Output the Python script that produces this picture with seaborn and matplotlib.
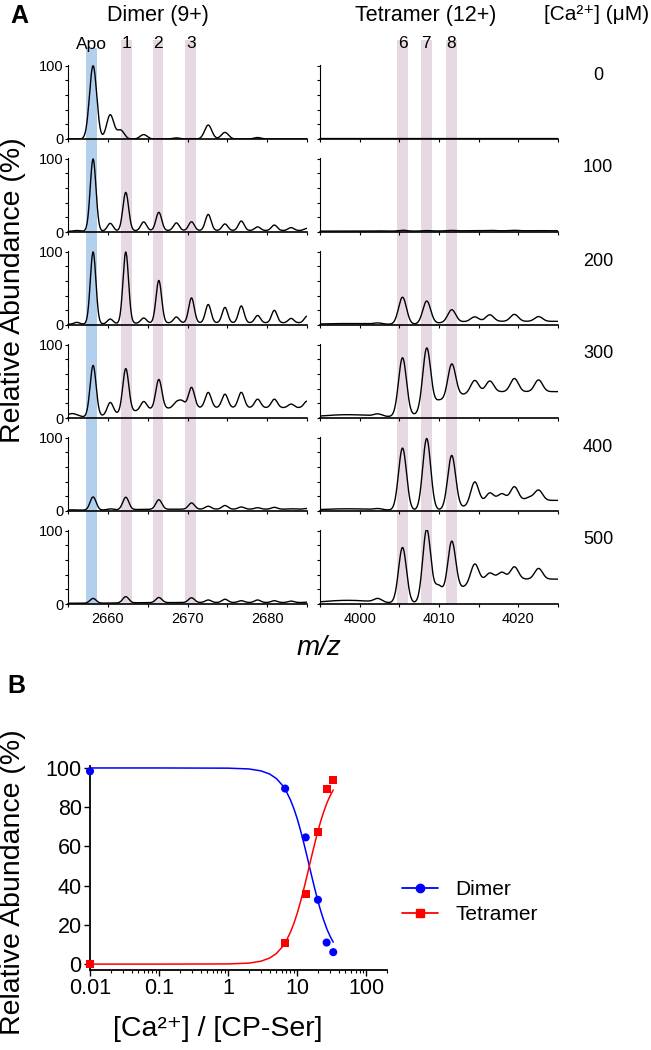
import numpy as np
import seaborn as sns
import matplotlib.pyplot as plt
from matplotlib.ticker import MultipleLocator, FixedLocator, LogLocator, NullFormatter
from matplotlib.lines import Line2D

# ---------------- panel A data ----------------
conc_labels = ['0', '100', '200', '300', '400', '500']

# Dimer (9+): peak positions (m/z) and peak heights (%) above background, one row per [Ca2+]
dimer_mz = [2656.1, 2658.15, 2660.3, 2661.6, 2662.25, 2664.5, 2666.4, 2668.6, 2669.3,
            2670.5, 2672.6, 2674.7, 2676.75, 2678.8, 2680.9, 2683.0, 2685.0]
dimer_int = [
    [0, 100, 33, 12, 0, 6, 0, 1.5, 0, 0.5, 19, 9, 0, 2, 0, 0, 0],
    [1, 98.5, 10.5, 0, 52.5, 12, 25, 10.5, 0, 12, 22, 9, 13, 5, 7.5, 4, 3],
    [2.5, 98.5, 6.5, 0, 97.5, 7, 58, 8, 0, 34, 25, 21, 23, 10, 17, 6, 9],
    [0, 70, 17, 0, 60, 11.6, 40, 7.5, 9, 28, 21, 18.5, 21, 11.7, 11.7, 5, 9],
    [0, 18, 1.5, 0, 17, 0, 13, 0, 0, 8.5, 4, 5, 3, 2, 2.5, 0.5, 1],
    [0, 6.5, 0, 0, 8.5, 0, 7, 0, 0, 6.5, 3.5, 4.5, 2.5, 3.5, 2.5, 2, 0.5],
]
dimer_sigma = [0.45, 0.36, 0.35, 0.38, 0.38, 0.38]
dimer_floor = [0, 1, 1, 0, 1, 1]
dimer_step = [0, 1, 2, 14, 1.5, 1]
dimer_step_mid = [2662, 2662, 2662, 2662, 2662, 2662]
dimer_shelf = [0, 0, 0, 5.5, 0.5, 0]

# Tetramer (12+)
tet_mz = [4002.3, 4005.4, 4008.45, 4009.9, 4011.6, 4014.5, 4016.4, 4017.9, 4019.5, 4021.4, 4022.55]
tet_int = [
    [0, 0, 0, 0, 0, 0, 0, 0, 0, 0, 0],
    [0.3, 1.2, 0.6, 0, 0.6, 0.3, 0.6, 0, 0.6, 0, 0.3],
    [1.5, 37, 31, 0, 17, 6.3, 9, 0, 9.5, 0, 6.5],
    [3, 80, 86, 6, 47, 17, 15, 0, 18, 0, 16],
    [1.5, 85, 98, 0, 73, 31, 12.5, 10, 19, 4, 14],
    [4.8, 76, 99, 18, 71, 26, 10, 10, 17, 0, 14.6],
]
tet_sigma = 0.5
tet_floor = [0.6, 1.2, 0.5, 0, 0.5, 0]
tet_step = [0, 0.5, 4.5, 36, 14, 34]
tet_step_mid = [4010, 4010, 4010, 4010, 4014, 4012]
tet_shelf = [0, 0, 1.5, 4.5, 2.5, 5]

dimer_bands = [2658.0, 2662.3, 2666.3, 2670.4]
dimer_band_labels = ['Apo', '1', '2', '3']
tet_bands = [4005.4, 4008.4, 4011.55]
tet_band_labels = ['6', '7', '8']

# ---------------- panel B data ----------------
ratio = [0.01, 6.7, 13.3, 20, 26.7, 33.3]
dimer_pct = [98.3, 89.5, 64.6, 32.8, 11, 6.1]
tetramer_pct = [0, 10.7, 35.9, 67.3, 89.1, 94]
fit_ratio = [0.01, 0.1, 1, 2, 3, 4, 5, 6, 7, 8, 9, 10, 11, 12, 13, 14, 15, 16, 18, 20,
             22, 24, 27, 30, 33.3]
dimer_fit = [100, 100, 99.9, 99.5, 98.5, 96.9, 94.6, 91.5, 87.9, 83.7, 79.1, 74.2, 69.1,
             64.1, 59.2, 54.5, 50.0, 45.8, 38.4, 32.1, 27.0, 22.8, 17.8, 14.2, 11.2]
tetramer_fit = [0, 0, 0.1, 0.5, 1.5, 3.1, 5.4, 8.5, 12.1, 16.3, 20.9, 25.8, 30.9,
                35.9, 40.8, 45.5, 50.0, 54.2, 61.6, 67.9, 73.0, 77.2, 82.2, 85.8, 88.8]

# ---------------- style ----------------
sns.set_style('ticks')
plt.rcParams['font.family'] = ['Liberation Sans', 'DejaVu Sans']
plt.rcParams['text.color'] = 'black'
plt.rcParams['axes.labelcolor'] = 'black'
plt.rcParams['xtick.color'] = 'black'
plt.rcParams['ytick.color'] = 'black'
plt.rcParams['axes.edgecolor'] = 'black'

W, H = 651, 1050
fig = plt.figure(figsize=(W / 100, H / 100), dpi=100)


def px_axes(x0, y_top, x1, y_bot):
    return fig.add_axes([x0 / W, 1 - y_bot / H, (x1 - x0) / W, (y_bot - y_top) / H])


def ftext(x, y, s, **kw):
    kw.setdefault('ha', 'center')
    kw.setdefault('va', 'center')
    kw.setdefault('zorder', 50)
    fig.text(x / W, 1 - y / H, s, **kw)


def spectrum(grid, mz, heights, sigma, floor, step, step_mid, step_w, shelf, shelf_mz, shelf_w):
    y = np.full_like(grid, float(floor))
    for c, h in zip(mz, heights):
        y += h * np.exp(-(grid - c) ** 2 / (2 * sigma ** 2))
    y += step / (1 + np.exp(-(grid - step_mid) / step_w))
    y += shelf * np.exp(-(grid - shelf_mz) ** 2 / (2 * shelf_w ** 2))
    return y


blue_band = '#b3cfee'
pink_band = '#e7d9e4'
grid_d = np.linspace(2655, 2685, 1500)
grid_t = np.linspace(3995, 4025, 1500)

for i in range(6):
    base = 139 + 93 * i
    top = base - 74
    axL = px_axes(68, top, 307, base)
    axR = px_axes(320, top, 558, base)
    for ax in (axL, axR):
        ax.set_zorder(10 - i)
        ax.set_facecolor('none')

    # shaded bands (extend up through the gap / label area)
    for k, c in enumerate(dimer_bands):
        if i == 0:
            ext = 1 + (65 - 48) / 74 if k == 0 else 1 + (65 - 40) / 74
        else:
            ext = 1 + 19 / 74
        axL.axvspan(c - 0.68, c + 0.68, ymin=0, ymax=ext, color=blue_band if k == 0 else pink_band,
                    lw=0, zorder=0, clip_on=False)
    for c in tet_bands:
        ext = 1 + (65 - 40) / 74 if i == 0 else 1 + 19 / 74
        axR.axvspan(c - 0.7, c + 0.7, ymin=0, ymax=ext, color=pink_band, lw=0, zorder=0, clip_on=False)

    yd = spectrum(grid_d, dimer_mz, dimer_int[i], dimer_sigma[i], dimer_floor[i],
                  dimer_step[i], dimer_step_mid[i], 2.0, dimer_shelf[i], 2655.5, 0.7)
    yt = spectrum(grid_t, tet_mz, tet_int[i], tet_sigma, tet_floor[i],
                  tet_step[i], tet_step_mid[i], 1.5, tet_shelf[i], 3998.5, 3.5)
    sns.lineplot(x=grid_d, y=yd, ax=axL, color='black', linewidth=1.0, zorder=3)
    sns.lineplot(x=grid_t, y=yt, ax=axR, color='black', linewidth=1.0, zorder=3)

    axL.set_xlim(2655, 2685)
    axR.set_xlim(3995, 4025)
    for ax in (axL, axR):
        ax.set_ylim(0, 101)
        ax.xaxis.set_major_locator(MultipleLocator(10))
        ax.xaxis.set_minor_locator(MultipleLocator(5))
        ax.yaxis.set_major_locator(FixedLocator([0, 100]))
        ax.yaxis.set_minor_locator(MultipleLocator(20))
        ax.tick_params(which='both', direction='out', length=2.5, width=0.8,
                       labelsize=10.5, pad=1, colors='black')
        ax.tick_params(axis='x', pad=3)
        ax.set_xlabel('')
        ax.set_ylabel('')
        sns.despine(ax=ax)
        ax.spines['left'].set_linewidth(0.8)
        ax.spines['bottom'].set_linewidth(1.2)
        if i < 5:
            ax.tick_params(labelbottom=False)
    axR.tick_params(labelleft=False)

    ftext(598, 75 + 93 * i, conc_labels[i], fontsize=13)

# band labels
x_d = lambda v: 68 + (v - 2655) * 239 / 30
x_t = lambda v: 320 + (v - 3995) * 238 / 30
for c, s in zip(dimer_bands, dimer_band_labels):
    ftext(x_d(c), 44, s, fontsize=12.5)
for c, s in zip(tet_bands, tet_band_labels):
    ftext(x_t(c), 44, s, fontsize=12.5)

ftext(19, 16, 'A', fontsize=18, fontweight='bold')
ftext(158, 15, 'Dimer (9+)', fontsize=15.5)
ftext(426, 15, 'Tetramer (12+)', fontsize=15.5)
ftext(544, 15, '[Ca\u00b2\u207a] (\u03bcM)', fontsize=15, ha='left')
ftext(13, 290, 'Relative Abundance (%)', fontsize=20.5, rotation=90)
ftext(319, 648, 'm/z', fontsize=20, fontstyle='italic')

# ---------------- panel B ----------------
axB = px_axes(90, 766, 387, 970)
axB.set_xscale('log')
sns.lineplot(x=fit_ratio, y=dimer_fit, ax=axB, color='blue', linewidth=1.1)
sns.lineplot(x=fit_ratio, y=tetramer_fit, ax=axB, color='red', linewidth=1.1)
sns.scatterplot(x=ratio, y=dimer_pct, ax=axB, color='blue', marker='o', s=34,
                edgecolor='none', clip_on=False, zorder=4)
sns.scatterplot(x=ratio, y=tetramer_pct, ax=axB, color='red', marker='s', s=34,
                edgecolor='none', clip_on=False, zorder=4)
axB.set_xlim(0.01, 200)
axB.set_ylim(-3, 101)
axB.set_xticks([0.01, 0.1, 1, 10, 100], labels=['0.01', '0.1', '1', '10', '100'])
axB.xaxis.set_minor_locator(LogLocator(base=10, subs=range(2, 10)))
axB.xaxis.set_minor_formatter(NullFormatter())
axB.set_yticks([0, 20, 40, 60, 80, 100])
axB.tick_params(which='major', direction='out', length=4, width=1, labelsize=15.5, pad=2,
                colors='black')
axB.tick_params(which='minor', direction='out', length=2.5, width=0.8, colors='black')
axB.set_xlabel('')
axB.set_ylabel('')
sns.despine(ax=axB)
for sp in ('left', 'bottom'):
    axB.spines[sp].set_linewidth(1.3)

handles = [Line2D([0], [0], color='blue', marker='o', markersize=6, lw=1.3),
           Line2D([0], [0], color='red', marker='s', markersize=5.5, lw=1.3)]
fig.legend(handles, ['Dimer', 'Tetramer'], loc='center left', bbox_to_anchor=(402 / W, 1 - 902 / H),
           frameon=False, fontsize=15, handlelength=1.75, handletextpad=0.8,
           labelspacing=0.3, borderpad=0, borderaxespad=0)

ftext(16, 686, 'B', fontsize=18, fontweight='bold')
ftext(13, 882, 'Relative Abundance (%)', fontsize=20.5, rotation=90)
ftext(218, 1029, '[Ca\u00b2\u207a] / [CP-Ser]', fontsize=20.5)

fig.savefig('out.png', dpi=100)
